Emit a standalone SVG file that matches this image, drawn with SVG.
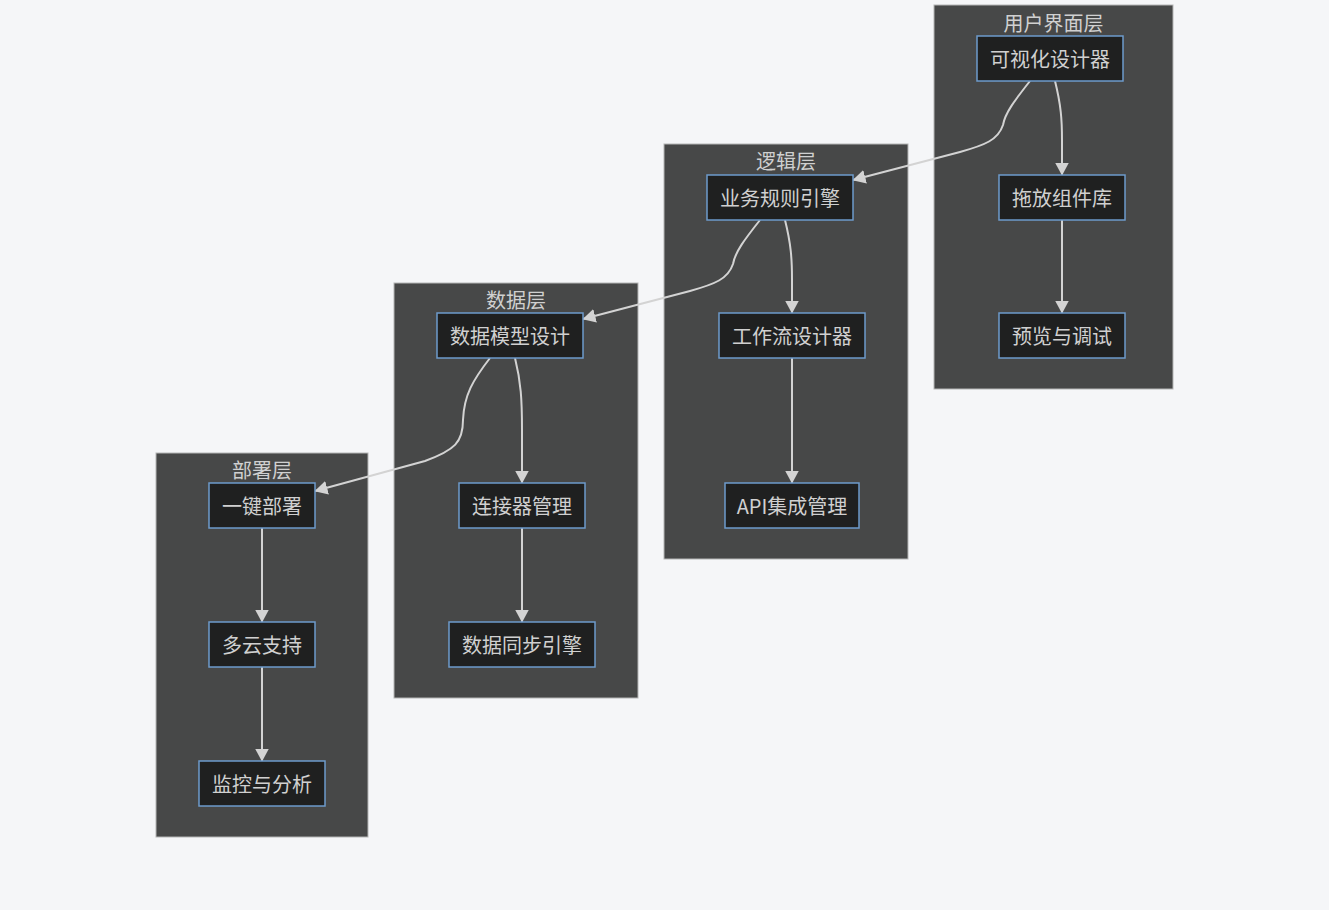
<svg xmlns="http://www.w3.org/2000/svg" width="1329" height="910" viewBox="0 0 1329 910">
<style>
.bg{fill:#f5f6f8}
.cluster rect{fill:#474848;stroke:#b5b5b5;stroke-width:1}
.node rect{fill:#1f2020;stroke:#6d9acb;stroke-width:1.5}
text{font-family:"Noto Sans CJK SC","Noto Sans",sans-serif;font-size:20px;fill:#d0d0d0;text-anchor:middle;dominant-baseline:central}
.edge{fill:none;stroke:#d3d3d3;stroke-width:2}
</style>
<defs>
<marker id="arr" viewBox="0 0 13 14" refX="12.5" refY="7" markerWidth="13" markerHeight="14" markerUnits="userSpaceOnUse" orient="auto">
<path d="M0,0 L13,7 L0,14 z" fill="#d3d3d3"/>
</marker>
</defs>
<rect class="bg" x="0" y="0" width="1329" height="910"/>
<g id="cluster-ui" class="cluster"><rect x="934" y="5" width="239" height="384"/><text x="1053.5" y="22">用户界面层</text></g>
<g id="cluster-logic" class="cluster"><rect x="664" y="144" width="244" height="415"/><text x="786" y="160">逻辑层</text></g>
<g id="cluster-data" class="cluster"><rect x="394" y="283" width="244" height="415"/><text x="516" y="299">数据层</text></g>
<g id="cluster-deploy" class="cluster"><rect x="156" y="453" width="212" height="384"/><text x="262" y="469">部署层</text></g>
<g id="connectors">
<path class="edge" marker-end="url(#arr)" d="M1055,81 C1061,105 1062,120 1062,140 L1062,175"/>
<path class="edge" marker-end="url(#arr)" d="M1030,81 C1015,100 1005,113 1003,125 C998,140 985,145 960,152 L853,180"/>
<path class="edge" marker-end="url(#arr)" d="M1062,220 L1062,313"/>
<path class="edge" marker-end="url(#arr)" d="M785,220 C791,244 792,259 792,279 L792,313"/>
<path class="edge" marker-end="url(#arr)" d="M760,220 C745,239 735,252 733,264 C728,279 715,284 690,291 L583,319"/>
<path class="edge" marker-end="url(#arr)" d="M792,358 L792,483"/>
<path class="edge" marker-end="url(#arr)" d="M515,358 C521,382 522,400 522,430 L522,483"/>
<path class="edge" marker-end="url(#arr)" d="M490,358 C473,380 464,395 463,420 C463,442 455,450 425,461 L315,491"/>
<path class="edge" marker-end="url(#arr)" d="M522,528 L522,622"/>
<path class="edge" marker-end="url(#arr)" d="M262,528 L262,622"/>
<path class="edge" marker-end="url(#arr)" d="M262,667 L262,761"/>
</g>
<g id="n-visual" class="node"><rect x="977" y="36" width="146" height="45"/><text x="1050" y="58">可视化设计器</text></g>
<g id="n-drag" class="node"><rect x="999" y="175" width="126" height="45"/><text x="1062" y="197">拖放组件库</text></g>
<g id="n-preview" class="node"><rect x="999" y="313" width="126" height="45"/><text x="1062" y="335">预览与调试</text></g>
<g id="n-rules" class="node"><rect x="707" y="175" width="146" height="45"/><text x="780" y="197">业务规则引擎</text></g>
<g id="n-workflow" class="node"><rect x="719" y="313" width="146" height="45"/><text x="792" y="335">工作流设计器</text></g>
<g id="n-api" class="node"><rect x="725" y="483" width="134" height="45"/><text x="792" y="505">API集成管理</text></g>
<g id="n-model" class="node"><rect x="437" y="313" width="146" height="45"/><text x="510" y="335">数据模型设计</text></g>
<g id="n-connector" class="node"><rect x="459" y="483" width="126" height="45"/><text x="522" y="505">连接器管理</text></g>
<g id="n-sync" class="node"><rect x="449" y="622" width="146" height="45"/><text x="522" y="644">数据同步引擎</text></g>
<g id="n-deploy" class="node"><rect x="209" y="483" width="106" height="45"/><text x="262" y="505">一键部署</text></g>
<g id="n-cloud" class="node"><rect x="209" y="622" width="106" height="45"/><text x="262" y="644">多云支持</text></g>
<g id="n-monitor" class="node"><rect x="199" y="761" width="126" height="45"/><text x="262" y="783">监控与分析</text></g>
</svg>
